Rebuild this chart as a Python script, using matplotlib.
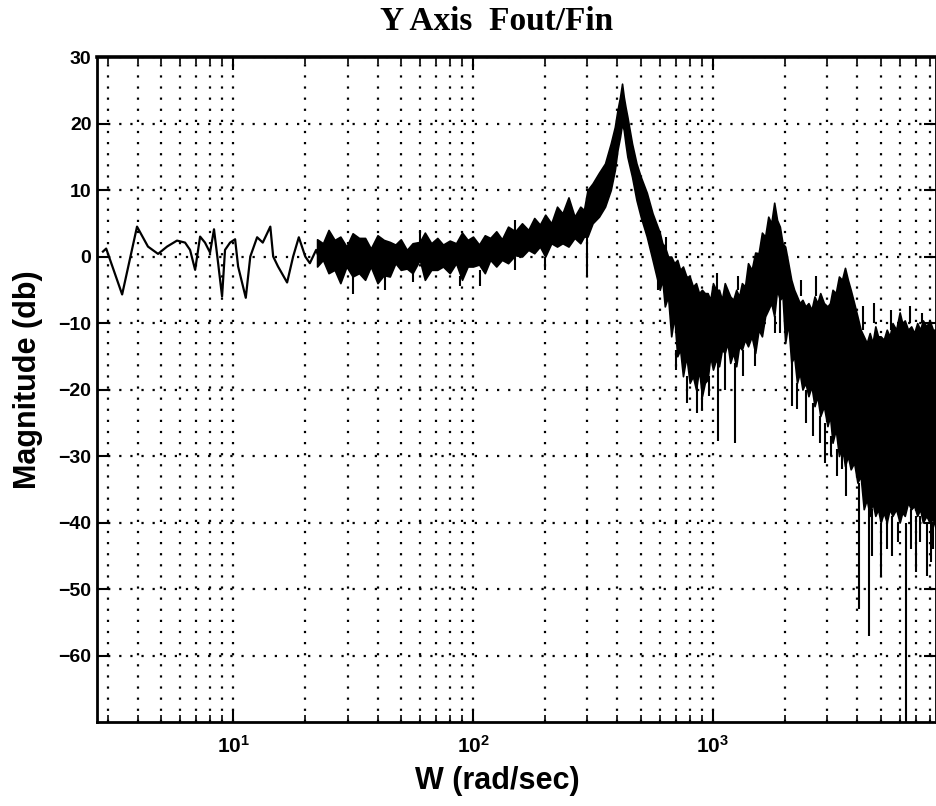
import numpy as np
import matplotlib
matplotlib.use('Agg')
import matplotlib.pyplot as plt
from matplotlib.ticker import LogLocator, NullFormatter

# ---------------- data ----------------
# single low-frequency trace (rad/sec, dB)
w_lf = [2.87, 2.96, 3.45, 3.98, 4.42, 4.87, 5.31, 5.84, 6.31, 6.62, 6.95, 7.29,
        7.64, 8.02, 8.33, 8.66, 9.00, 9.26, 9.72, 10.2, 10.5, 11.3, 11.8, 12.6,
        13.3, 14.3, 14.7, 15.4, 16.8, 17.8, 18.8, 20.0, 20.9, 22.2, 23.0]
db_lf = [0.75, 1.2, -5.7, 4.5, 1.5, 0.4, 1.5, 2.4, 2.1, 1.0, -2.0, 3.0,
         2.1, 0.6, 4.1, -0.9, -6.0, 1.0, 2.1, 2.6, -1.5, -6.2, 0.0, 2.9,
         2.1, 4.5, 0.0, -1.5, -3.9, 0.0, 2.9, 0.0, -1.0, 1.0, -0.5]

# noisy band: upper / lower envelope of the dense trace
w_band = [22.4, 23.7, 25, 26.5, 28, 29.7, 31.5, 33.5, 35.5, 37.5, 40, 42.5, 45,
          47.5, 50, 53, 56, 60, 63, 67, 71, 75, 80, 85, 90, 95, 100, 106, 112,
          118, 125, 132, 140, 150, 160, 170, 180, 190, 200, 212, 224, 236, 250,
          265, 280, 290, 300,
          315, 335, 355, 375, 390, 400, 410, 418, 425, 432, 440, 460, 480, 500,
          530, 560,
          600, 615, 630, 650, 670, 690, 710, 730, 750, 775, 800, 825, 850, 875,
          900, 925, 950, 975, 1000, 1030, 1060, 1090, 1120, 1150, 1180, 1215,
          1250, 1285, 1320, 1360, 1400, 1450, 1500, 1550, 1600, 1650, 1700, 1750,
          1800, 1850, 1900, 1950, 2000, 2060, 2120, 2180, 2240, 2300, 2360, 2430,
          2500, 2575, 2650, 2725, 2800, 2900, 3000, 3075, 3150, 3250, 3350, 3450,
          3550, 3650, 3750, 3875, 4000, 4125, 4250, 4375, 4500, 4625, 4750, 4875,
          5000, 5150, 5300, 5450, 5600, 5800, 6000, 6150, 6300, 6500, 6700, 6900,
          7100, 7300, 7500, 7750, 8000, 8250, 8500]
db_upper = [2.6, 2.0, 4.0, 2.5, 3.0, 1.5, 3.5, 2.8, 2.8, 1.2, 3.2, 2.5, 2.2,
            1.8, 2.6, 1.0, 2.0, 2.2, 3.6, 2.0, 2.8, 1.8, 2.4, 2.0, 3.6, 2.5, 3.0,
            1.8, 3.2, 2.8, 3.8, 2.6, 4.5, 3.8, 5.0, 4.0, 5.8, 4.8, 6.3, 5.0, 7.5,
            6.5, 8.9, 6.0, 7.5, 7.0, 10.0,
            11.0, 12.6, 14.0, 17.0, 19.5, 22.0, 24.0, 26.0, 24.0, 22.5, 21.0,
            17.0, 14.0, 12.0, 9.6, 6.5,
            3.6, 2.0, 1.5, 0.0, 0.0, -1.0, -0.5, -2.0, -1.5, -3.0, -3.0, -4.5,
            -4.0, -5.5, -5.0, -5.5, -5.5, -6.5, -4.0, -5.0, -5.0, -6.5, -4.0,
            -5.0, -6.0, -6.5, -5.0, -6.0, -4.0, -4.5, -1.0, -2.0, 0.6, 0.5, 3.6,
            3.0, 6.0, 5.0, 8.1, 5.5, 4.5, 2.0, 1.5, -1.0, -3.5, -5.0, -6.0, -7.0,
            -6.5, -7.5, -7.0, -8.0, -6.0, -7.0, -5.5, -7.0, -7.5, -7.0, -5.0,
            -5.5, -3.0, -3.5, -1.7, -3.5, -5.0, -7.0, -9.0, -11.0, -12.0, -13.0,
            -11.5, -13.0, -10.5, -12.0, -12.0, -12.5, -11.0, -12.0, -10.0, -11.0,
            -8.4, -10.0, -9.6, -11.0, -10.5, -11.5, -10.0, -11.0, -9.6, -10.5,
            -9.6, -11.0, -11.0]
db_lower = [-1.5, -0.5, -2.5, -2.0, -4.0, -1.5, -3.0, -2.5, -3.5, -1.5, -4.0,
            -2.8, -3.0, -1.0, -2.0, -1.8, -2.5, -0.5, -3.5, -2.0, -2.0, -1.5,
            -2.5, -1.0, -3.5, -1.5, -1.5, -1.2, -2.5, -0.5, -1.5, -0.5, -1.0,
            0.2, 0.0, 1.0, 0.5, 1.5, 0.0, 2.0, 1.5, 2.0, 1.5, 2.8, 2.0, 3.0, 3.0,
            5.0, 6.0, 7.5, 10.0, 13.0, 16.0, 18.0, 20.0, 19.0, 17.0, 15.0, 12.0,
            8.5, 6.0, 3.0, -0.5,
            -5.0, -3.5, -7.5, -6.0, -12.0, -9.0, -15.0, -14.0, -18.0, -15.0,
            -19.0, -18.0, -20.0, -17.0, -21.0, -19.0, -18.5, -15.0, -17.0, -15.5,
            -16.5, -14.0, -14.5, -13.0, -16.0, -14.5, -16.5, -13.5, -14.0, -12.5,
            -13.5, -12.0, -14.5, -11.0, -12.0, -9.0, -8.0, -7.0, -9.0, -5.0,
            -6.5, -6.0, -13.0, -10.0, -16.0, -15.0, -19.0, -17.5, -20.0, -19.0,
            -21.0, -19.5, -22.5, -21.0, -24.0, -22.5, -25.5, -24.0, -28.0, -26.0,
            -30.0, -28.5, -31.5, -30.0, -32.0, -31.0, -34.0, -33.0, -38.0, -36.5,
            -39.0, -37.0, -39.0, -38.0, -40.0, -38.5, -40.0, -38.0, -39.0, -38.0,
            -40.0, -38.5, -39.0, -37.0, -38.0, -37.5, -39.0, -38.0, -40.0, -39.0,
            -40.0, -39.5, -41.0]

# narrow excursions of the trace beyond the band (start, end)
w_spike = [31.5, 43, 56, 88, 107, 150, 200, 300, 590, 700, 780, 860, 900, 960,
           1050, 1120, 1230, 1330, 1500, 1820, 1900, 2140, 2250, 2450, 2600,
           2800, 2930, 3100, 3300, 3450, 3600, 4050, 4470, 4600, 5010, 5300,
           5600, 5900, 6370, 6700, 7020, 7300, 7800, 8100, 8300,
           60, 150, 640, 1040, 1270, 2330, 2700, 4200, 4700, 5500, 6600, 7400]
db_spike_from = [-3, -3, -2, -3, -2, 0, 0, 3, -1, -14, -18, -19, -20, -18, -16,
                 -14, -16, -14, -14, -9, -6, -16, -19, -20, -22, -24, -25, -27,
                 -29, -29, -31, -34, -38, -38, -40, -40, -39, -40, -40, -38,
                 -39, -39, -40, -40, -40,
                 2, 3, 0, -5, -5, -6, -6, -11, -10, -11, -10, -10]
db_spike_to = [-5.7, -5.0, -3.8, -4.5, -4.5, -2.0, -2.0, -3.0, -5.0, -17.0, -22.0,
               -23.5, -23.0, -21.0, -27.8, -20.0, -28.0, -18.0, -16.5, -11.5,
               -11.5, -22.5, -23.0, -25.0, -27.0, -28.0, -31.0, -30.0, -33.0,
               -32.0, -36.0, -53.0, -57.0, -45.0, -48.0, -44.0, -45.0, -43.0,
               -70.0, -44.0, -47.5, -43.0, -48.0, -46.0, -44.0,
               4.0, 5.5, 3.0, -2.5, -3.0, -3.5, -3.0, -7.5, -7.0, -8.0, -7.5,
               -8.5]

y_ticks = [-60, -50, -40, -30, -20, -10, 0, 10, 20, 30]
x_major = [10, 100, 1000]
x_labels = [r'$10^{1}$', r'$10^{2}$', r'$10^{3}$']

# ---------------- style ----------------
plt.rcParams['font.family'] = ['Liberation Sans', 'DejaVu Sans']
plt.rcParams['font.weight'] = 'bold'
plt.rcParams['mathtext.fontset'] = 'custom'
plt.rcParams['mathtext.rm'] = 'Liberation Sans:bold'
plt.rcParams['mathtext.it'] = 'Liberation Sans:bold'
plt.rcParams['mathtext.bf'] = 'Liberation Sans:bold'

fig = plt.figure(figsize=(9.37, 8.06), dpi=100)
ax = fig.add_axes([0.1035, 0.1042, 0.8954, 0.825])
ax.set_xscale('log')
ax.set_xlim(2.71, 8500)
ax.set_ylim(-70, 30)

# data
ax.fill_between(w_band, db_lower, db_upper, color='black', lw=1.2, zorder=3)
ax.plot(w_lf, db_lf, color='black', lw=1.6, zorder=3)
ax.vlines(w_spike, db_spike_from, db_spike_to, color='black', lw=1.5, zorder=3)

# ticks
ax.set_yticks(y_ticks)
ax.set_xticks(x_major)
ax.set_xticklabels(x_labels)
ax.xaxis.set_minor_locator(LogLocator(base=10, subs=np.arange(2, 10), numticks=30))
ax.xaxis.set_minor_formatter(NullFormatter())
ax.tick_params(which='both', direction='in', top=True, right=True, labelsize=14)
ax.tick_params(axis='x', which='major', labelsize=15)
ax.tick_params(which='major', length=9, width=1.5)
ax.tick_params(which='minor', length=5, width=1.2)
ax.tick_params(axis='x', which='major', pad=9)
ax.tick_params(axis='y', which='major', pad=4)

# grid
gstyle = dict(color='black', linestyle=(0, (1, 4)), linewidth=1.6)
ax.grid(True, which='major', axis='both', **gstyle)
ax.grid(True, which='minor', axis='x', **gstyle)
ax.set_axisbelow(True)

for s in ax.spines.values():
    s.set_linewidth(2.0)
ax.spines['top'].set_linewidth(2.6)

# texts
fig.text(497 / 937, 1 - 22 / 806, 'Y Axis  Fout/Fin', family='Liberation Serif',
         weight='bold', size=24, ha='center', va='center')
fig.text(497 / 937, 1 - 781 / 806, 'W (rad/sec)', size=22, ha='center', va='center')
fig.text(28 / 937, 1 - 380 / 806, 'Magnitude (db)', size=22, rotation=90,
         ha='center', va='center')

fig.savefig('out.png', dpi=100)
